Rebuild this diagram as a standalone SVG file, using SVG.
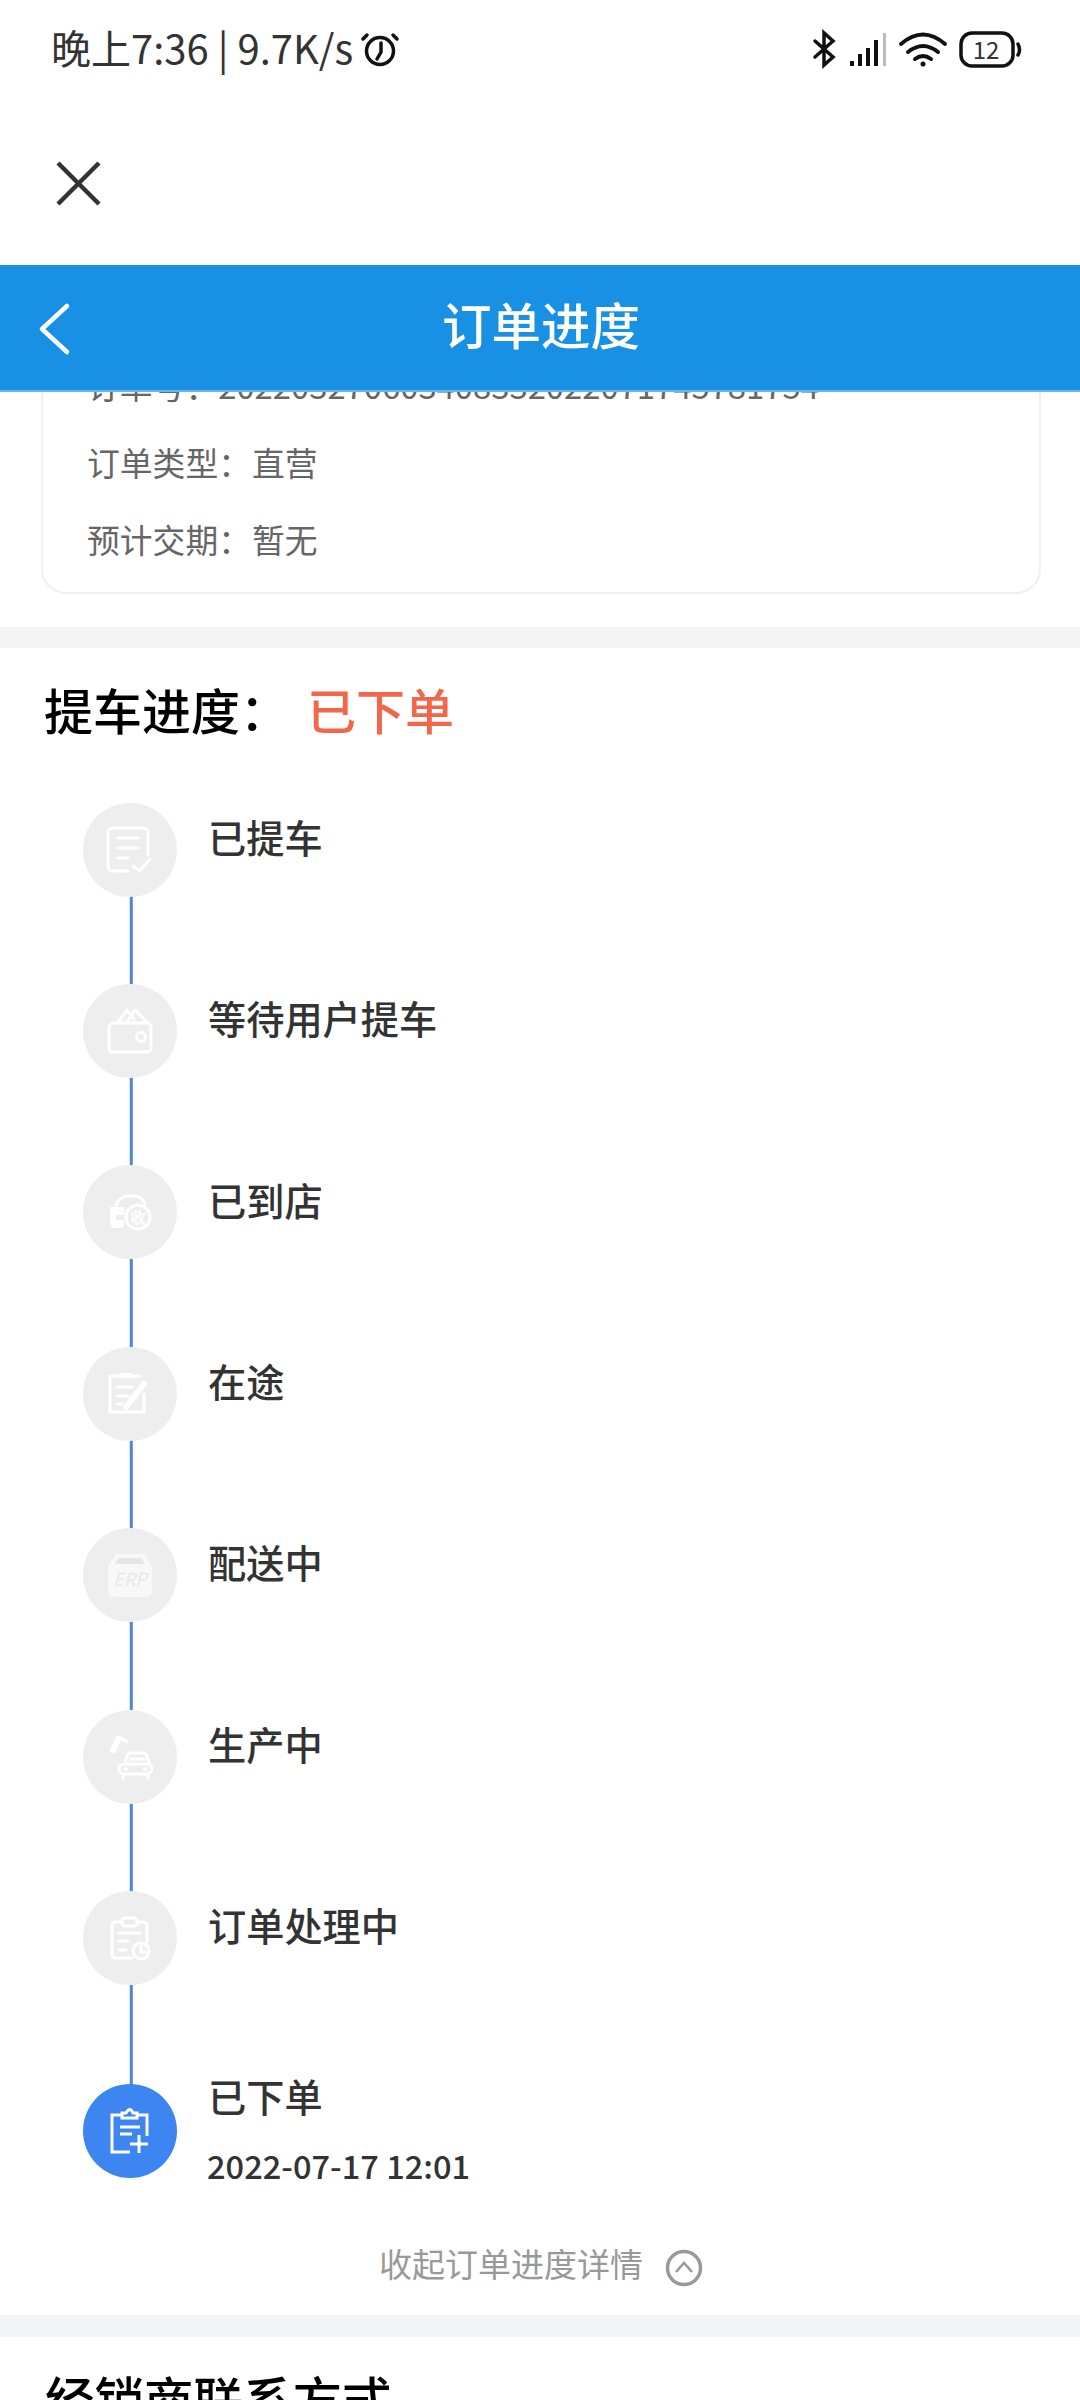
<svg xmlns="http://www.w3.org/2000/svg" width="1080" height="2400" viewBox="0 0 1080 2400">
<style>
text{font-family:"Noto Sans CJK SC","Noto Sans",sans-serif}
.lbl{font-size:38.2px;fill:#333;font-weight:500}
.info{font-size:32.8px;fill:#666}
.title{font-size:49px;fill:#000;font-weight:500}
.ci{fill:#eeeeee}
.ic{fill:none;stroke:#fff;stroke-width:3;stroke-linecap:round;stroke-linejoin:round}
.wf{fill:#fff}
.st{fill:none;stroke:#111;stroke-linecap:round}
</style>
<rect width="1080" height="2400" fill="#fff"/>

<g id="order-card">
<rect x="42" y="340" width="998" height="253" rx="24" fill="#fff" stroke="#f0f0f0" stroke-width="2"/>
<text class="info" x="87" y="399">订单号：202203270603408332022071745781754</text>
<text class="info" x="87" y="476">订单类型：</text><text class="info" x="252" y="476">直营</text>
<text class="info" x="87" y="553">预计交期：</text><text class="info" x="252" y="553">暂无</text>
</g>

<g id="status-bar">
<text x="51" y="64" font-size="40" fill="#333">晚上7:36 | 9.7K/s</text>
<g class="st" stroke-width="3.5"><circle cx="380" cy="51" r="13.5" fill="none" stroke="#111" stroke-width="3.5"/><path d="M381 43V52L377 59M363 39L367 35M397 39L393 35"/></g>
<path class="st" stroke-width="3.5" d="M815 41L833 57L824 65V33L833 41L815 57"/>
<g fill="#111"><rect x="850" y="61" width="4" height="5"/><rect x="858" y="54" width="4" height="12"/><rect x="866" y="48" width="4" height="18"/><rect x="874" y="40" width="4" height="26"/></g>
<rect x="883" y="33" width="3" height="33" fill="#bbb"/>
<g class="st" stroke-width="4"><path d="M901 44Q923 25 945 44M908 52Q923 40 938 52M915 59Q923 53 931 59"/></g>
<circle cx="923" cy="64" r="2.5" fill="#111"/>
<rect x="961" y="33" width="52" height="33" rx="11" fill="#fff" stroke="#111" stroke-width="3.5"/>
<text x="986" y="59" font-size="24" fill="#333" text-anchor="middle">12</text>
<path class="st" stroke-width="3.5" d="M1018 44Q1021 50 1018 55"/>
</g>

<g id="close"><path d="M58 163L99 204M99 163L58 204" fill="none" stroke="#333" stroke-width="4.5"/></g>

<g id="header">
<rect y="265" width="1080" height="125" fill="#1890e3"/>
<rect y="390" width="1080" height="2" fill="#6cb8ee"/>
<path d="M67 306L42 329L67 352" fill="none" stroke="#fff" stroke-width="4.5" stroke-linecap="round" stroke-linejoin="round"/>
<text x="541" y="345" font-size="49.5" fill="#fff" font-weight="500" text-anchor="middle">订单进度</text>
</g>

<rect id="band-1" y="627" width="1080" height="21" fill="#f4f5f7"/>

<g id="progress-title">
<text class="title" x="44" y="730">提车进度：</text>
<text x="307" y="730" font-size="49" fill="#f4664a" font-weight="500">已下单</text>
</g>

<g id="connectors" stroke="#4d86d9" stroke-width="3">
<line x1="131.3" y1="896" x2="131.3" y2="985"/>
<line x1="131.3" y1="1077" x2="131.3" y2="1166"/>
<line x1="131.3" y1="1259" x2="131.3" y2="1347"/>
<line x1="131.3" y1="1440" x2="131.3" y2="1529"/>
<line x1="131.3" y1="1622" x2="131.3" y2="1710"/>
<line x1="131.3" y1="1803" x2="131.3" y2="1892"/>
<line x1="131.3" y1="1985" x2="131.3" y2="2085"/>
</g>

<g id="node-picked">
<circle class="ci" cx="130" cy="850" r="47"/>
<path class="ic" d="M128 871H113Q108 871 108 866V833Q108 828 113 828H143Q148 828 148 833V855M118 838H138M118 848H138M118 858H128M133 866L140 871L150 859"/>
<text class="lbl" x="208" y="853">已提车</text>
</g>
<g id="node-waiting">
<circle class="ci" cx="130" cy="1031" r="47"/>
<rect class="ic" x="109" y="1023" width="42" height="29" rx="4"/><circle class="ic" cx="141" cy="1037" r="4.5"/>
<path class="ic" d="M118 1022L127 1010L134 1019M127 1022L135 1010L147 1022"/>
<text class="lbl" x="208" y="1034">等待用户提车</text>
</g>
<g id="node-arrived">
<circle class="ci" cx="130" cy="1212" r="47"/>
<path class="ic" stroke-width="4" d="M116 1206Q119 1196 128 1196H135Q142 1196 145 1204"/>
<path class="wf" d="M110 1207H124V1215H116V1220H124V1225Q124 1228 120 1228H114Q110 1228 110 1224Z"/>
<circle cx="138" cy="1217" r="12" fill="#eee" stroke="#fff" stroke-width="3"/>
<text x="138" y="1223" font-size="15" fill="#fff" text-anchor="middle" font-weight="700">收</text>
<text class="lbl" x="208" y="1216">已到店</text>
</g>
<g id="node-transit">
<circle class="ci" cx="130" cy="1394" r="47"/>
<path class="ic" stroke-width="3.5" d="M119 1376H110V1412H144V1394M132 1376H140M117 1387H132M117 1396H128M117 1404H122"/>
<rect class="wf" x="119" y="1373" width="14" height="5" rx="2"/>
<path d="M126 1407L144 1384" stroke="#fff" stroke-width="6" stroke-linecap="round"/>
<text class="lbl" x="208" y="1397">在途</text>
</g>
<g id="node-delivering">
<circle class="ci" cx="130" cy="1575" r="47"/>
<path d="M108 1566L116 1554H144L152 1566V1591Q152 1597 146 1597H114Q108 1597 108 1591Z" fill="#f8f8f8"/>
<path d="M115 1564L119 1558H141L145 1564Z" fill="#e6e6e6"/>
<text x="130" y="1586" font-size="18" font-style="italic" fill="#e9e9e9" text-anchor="middle" font-family="Liberation Sans,sans-serif">ERP</text>
<text class="lbl" x="208" y="1578">配送中</text>
</g>
<g id="node-producing">
<circle class="ci" cx="130" cy="1757" r="47"/>
<path d="M112 1753L119 1737" stroke="#fff" stroke-width="6"/><path d="M118 1737L128 1742" stroke="#fff" stroke-width="4"/>
<path class="ic" d="M125 1764L127 1756Q128 1753 131 1753H143Q146 1753 147 1756L149 1764"/>
<rect class="ic" x="119" y="1764" width="33" height="10" rx="5"/>
<path class="ic" d="M123 1775V1778M148 1775V1778M130 1759H144M125 1769H127M144 1769H146"/>
<text class="lbl" x="208" y="1760">生产中</text>
</g>
<g id="node-processing">
<circle class="ci" cx="130" cy="1938" r="47"/>
<path class="ic" d="M122 1922H115Q112 1922 112 1925V1955Q112 1958 115 1958H132M137 1922H144Q147 1922 147 1925V1942M119 1933H140M119 1941H128M119 1950H126"/>
<rect class="ic" x="122" y="1918" width="15" height="8" rx="3"/>
<circle cx="141" cy="1951" r="8" fill="#eee" stroke="#fff" stroke-width="3"/><path class="ic" stroke-width="2" d="M141 1946V1952H145"/>
<text class="lbl" x="208" y="1941">订单处理中</text>
</g>
<g id="node-ordered">
<circle cx="130" cy="2131" r="47" fill="#3d85f0"/>
<path d="M122 2115H112V2152H130M137 2115H147V2136M120 2127H140M120 2134H132M130 2144H148M139 2135V2153" fill="none" stroke="#fff" stroke-width="3"/>
<path d="M122 2118V2113H126Q130 2106 133 2113H137V2118Z" fill="none" stroke="#fff" stroke-width="3"/>
<text class="lbl" x="208" y="2112">已下单</text>
<text x="207" y="2179" font-size="32.6" fill="#333" font-weight="500" font-family="Noto Sans,sans-serif">2022-07-17 12:01</text>
</g>

<g id="collapse">
<text x="379" y="2277" font-size="33" fill="#999">收起订单进度详情</text>
<circle cx="684" cy="2268" r="16.5" fill="none" stroke="#999" stroke-width="3.5"/>
<path d="M676 2272L684 2263L692 2272" fill="none" stroke="#999" stroke-width="2.5"/>
</g>

<rect id="band-2" y="2315" width="1080" height="22" fill="#f4f5f7"/>
<text class="title" x="45" y="2419" style="font-size:49.5px">经销商联系方式</text>
</svg>
